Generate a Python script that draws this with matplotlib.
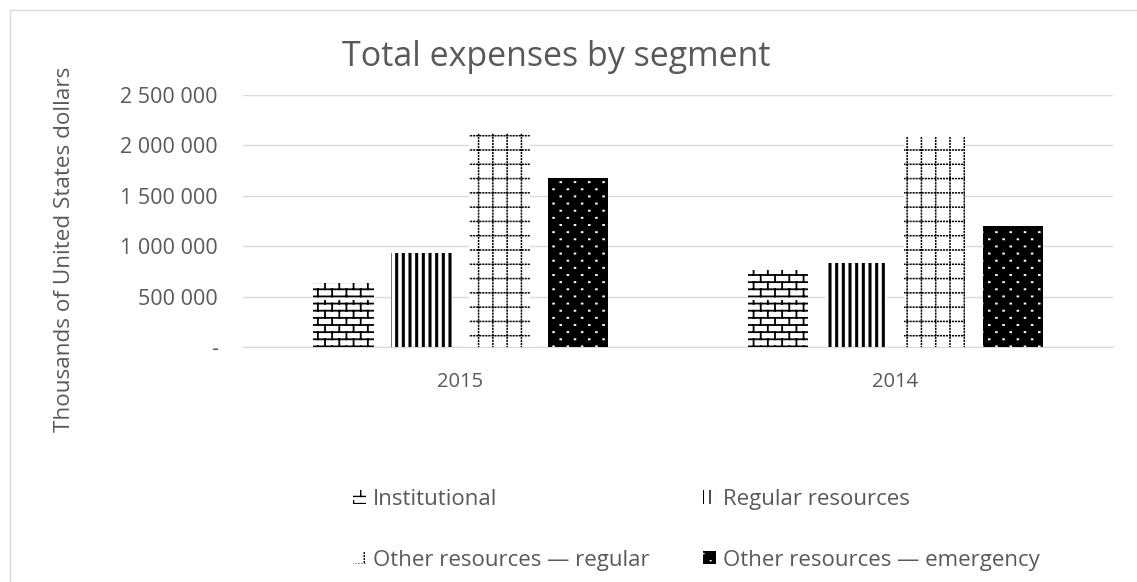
import warnings

import numpy as np
import matplotlib
matplotlib.use("Agg")
import matplotlib.pyplot as plt
from matplotlib import hatch as mhatch
from matplotlib.path import Path
from matplotlib.ticker import FuncFormatter

warnings.filterwarnings("ignore")

years = ["2015", "2014"]
segments = [
    "Institutional",
    "Regular resources",
    "Other resources \u2014 regular",
    "Other resources \u2014 emergency",
]
institutional = [635000, 765000]
regular_resources = [930000, 835000]
other_regular = [2120000, 2080000]
other_emergency = [1675000, 1200000]

y_ticks = [0, 500000, 1000000, 1500000, 2000000, 2500000]

TEXT = "#595959"
GRID = "#d9d9d9"


def _segments_to(vertices, codes, segs):
    vertices[:] = np.asarray(segs, dtype=float).reshape(-1, 2)
    codes[0::2] = Path.MOVETO
    codes[1::2] = Path.LINETO


class BrickHatch(mhatch.HatchPatternBase):
    rows, cols = 14, 7

    def __init__(self, hatch, density):
        self.num_vertices = (self.rows + self.rows * self.cols) * 2 if "b" in hatch else 0

    def set_vertices_and_codes(self, vertices, codes):
        segs = []
        h = 1 / self.rows
        for r in range(self.rows):
            y = (r + 0.5) * h
            segs.append(((0, y), (1, y)))
            shift = 0.5 / self.cols if r % 2 else 0
            for c in range(self.cols):
                x = (c + 0.25) / self.cols + shift
                segs.append(((x, y), (x, y + h)))
        _segments_to(vertices, codes, segs)


class ThickVerticalHatch(mhatch.HatchPatternBase):
    n = 15

    def __init__(self, hatch, density):
        self.num_vertices = self.n * 2 if "v" in hatch else 0

    def set_vertices_and_codes(self, vertices, codes):
        segs = [(((i + 0.5) / self.n, 0), ((i + 0.5) / self.n, 1)) for i in range(self.n)]
        _segments_to(vertices, codes, segs)


class DottedGridHatch(mhatch.HatchPatternBase):
    lines, dots = 7, 33

    def __init__(self, hatch, density):
        self.num_vertices = self.lines * self.dots * 4 if "g" in hatch else 0

    def set_vertices_and_codes(self, vertices, codes):
        segs = []
        d = 0.003
        for i in range(self.lines):
            p = (i + 0.5) / self.lines
            for j in range(self.dots):
                q = (j + 0.5) / self.dots
                segs.append(((q - d, p), (q + d, p)))
                segs.append(((p, q - d), (p, q + d)))
        _segments_to(vertices, codes, segs)


class StaggerDotHatch(mhatch.HatchPatternBase):
    rows, cols = 14, 7

    def __init__(self, hatch, density):
        self.num_vertices = self.rows * self.cols * 2 if "d" in hatch else 0

    def set_vertices_and_codes(self, vertices, codes):
        segs = []
        d = 0.003
        for r in range(self.rows):
            y = (r + 0.5) / self.rows
            shift = 0.5 / self.cols if r % 2 else 0
            for c in range(self.cols):
                x = (c + 0.25) / self.cols + shift
                segs.append(((x - d, y), (x + d, y)))
        _segments_to(vertices, codes, segs)


mhatch._hatch_types.extend([BrickHatch, ThickVerticalHatch, DottedGridHatch, StaggerDotHatch])

plt.rcParams["font.family"] = ["Open Sans", "DejaVu Sans"]

series = [institutional, regular_resources, other_regular, other_emergency]
styles = [
    dict(facecolor="white", edgecolor="black", hatch="b", hlw=1.3),
    dict(facecolor="white", edgecolor="black", hatch="v", hlw=2.2),
    dict(facecolor="white", edgecolor="black", hatch="g", hlw=1.1),
    dict(facecolor="black", edgecolor="white", hatch="d", hlw=1.4),
]

W, H = 1137, 582
fig = plt.figure(figsize=(W / 100, H / 100), dpi=100)
ax = fig.add_axes([243 / W, 1 - 347 / H, 870 / W, 252 / H])

x = np.arange(len(years))
step, width = 0.18, 0.14
handles = []
for i, (vals, st) in enumerate(zip(series, styles)):
    with plt.rc_context({"hatch.linewidth": st["hlw"]}):
        bars = ax.bar(x + (i - 1.5) * step, vals, width,
                      facecolor=st["facecolor"], edgecolor=st["edgecolor"],
                      hatch=st["hatch"], linewidth=0, label=segments[i], zorder=3)
    handles.append(bars)

ax.set_xlim(-0.5, 1.5)
ax.set_ylim(0, 2500000)
ax.set_xticks(x, years)
ax.set_yticks(y_ticks)
ax.yaxis.set_major_formatter(FuncFormatter(
    lambda v, _: "-" if v == 0 else f"{int(v):,}".replace(",", " ")))
ax.tick_params(length=0, colors=TEXT)
ax.tick_params(axis="x", labelsize=14.5, pad=18)
ax.tick_params(axis="y", labelsize=15.5, pad=18)
ax.grid(axis="y", color=GRID, linewidth=1, zorder=0)
for side in ["top", "right", "left"]:
    ax.spines[side].set_visible(False)
ax.spines["bottom"].set_color(GRID)

fig.text(65 / W, 1 - 249 / H, "Thousands of United States dollars", rotation=90,
         ha="center", va="center", color=TEXT, fontsize=16.2)
fig.text(556 / W, 1 - 57 / H, "Total expenses by segment", ha="center", va="center",
         color=TEXT, fontsize=24.5)

# legend fills column by column, so reorder to read row by row
order = [0, 2, 1, 3]
with plt.rc_context({"hatch.linewidth": 1.0}):
    fig.legend(handles=[handles[k] for k in order], labels=[segments[k] for k in order],
               ncol=2, loc="upper left", bbox_to_anchor=(353 / W, 1 - 489 / H),
               frameon=False, fontsize=16, labelcolor=TEXT, handlelength=0.6,
               handleheight=0.55, handletextpad=0.3, columnspacing=2.4,
               labelspacing=1.78, borderaxespad=0, borderpad=0)

# light frame around the chart area
fig.patches.append(plt.Rectangle((10 / W, -0.1), 2, 1 - 10 / H + 0.1,
                                 transform=fig.transFigure, fill=False,
                                 edgecolor=GRID, linewidth=1))

fig.savefig("out.png", dpi=100)
